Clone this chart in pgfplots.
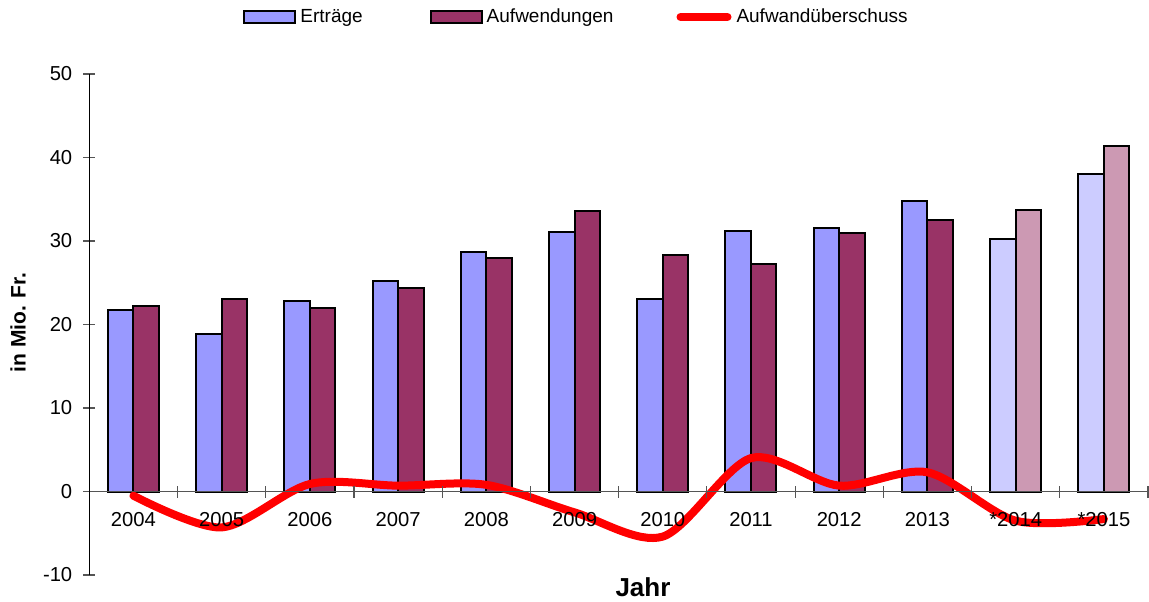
\documentclass[border=0pt]{standalone}
\usepackage{fontspec}
\setmainfont{Liberation Sans}
\usepackage{pgfplots}
\pgfplotsset{compat=1.18}
\definecolor{ertr}{HTML}{9999FF}
\definecolor{aufw}{HTML}{993366}
\definecolor{ertrL}{HTML}{CCCCFF}
\definecolor{aufwL}{HTML}{CC99B3}
\definecolor{axgray}{HTML}{555555}
\begin{document}
\begin{tikzpicture}
\begin{axis}[
  scale only axis, width=529.35pt, height=250.5pt,
  xmin=-0.5, xmax=11.5, ymin=-10, ymax=50,
  axis on top,
  axis y line*=left, axis x line*=middle,
  y axis line style={black, line width=0.6pt},
  x axis line style={axgray, line width=0.6pt},
  ytick={-10,0,10,20,30,40,50},
  yticklabels={-10,0,10,20,30,40,50},
  xtick={0,...,11},
  xticklabels={2004,2005,2006,2007,2008,2009,2010,2011,2012,2013,*2014,*2015},
  minor xtick={0.5,1.5,...,11.5},
  major x tick style={draw=none},
  minor x tick style={axgray, line width=0.6pt},
  major y tick style={axgray, line width=0.6pt},
  tick align=center,
  major tick length=6pt, minor tick length=6pt,
  tick label style={font=\fontsize{10.1}{11.5}\selectfont, text=black},
  xticklabel style={yshift=-4pt},
  yticklabel style={xshift=-2pt},
  ylabel={in Mio. Fr.},
  ylabel style={at={(axis description cs:-0.0673,0.504)}, anchor=center, rotate=0, font=\bfseries\fontsize{10.5}{12}\selectfont},
  xlabel={Jahr},
  xlabel style={at={(axis description cs:0.523,-0.024)}, anchor=center, font=\bfseries\fontsize{13}{15}\selectfont},
  legend columns=3,
  legend style={at={(axis description cs:0.1452,1.1138)}, anchor=west, draw=none, fill=none, inner sep=0pt,
    font=\fontsize{9.5}{11}\selectfont,
    /tikz/every even column/.append style={column sep=31.5pt}},
  legend cell align=left,
  clip=false,
]
\addplot[ybar, bar width=0.289, bar shift=-0.1445, fill=ertr, draw=black, line width=1pt,
  legend image code/.code={\draw[fill=ertr, draw=black, line width=1pt] (0pt,-2.9pt) rectangle (25.5pt,2.9pt);}]
  coordinates {(0,21.7) (1,18.9) (2,22.8) (3,25.2) (4,28.7) (5,31.1) (6,23.0) (7,31.15) (8,31.6) (9,34.8)};
\addlegendentry{Erträge}
\addplot[ybar, bar width=0.289, bar shift=0.1445, fill=aufw, draw=black, line width=1pt,
  legend image code/.code={\draw[fill=aufw, draw=black, line width=1pt] (0pt,-2.9pt) rectangle (25.5pt,2.9pt);}]
  coordinates {(0,22.2) (1,23.1) (2,22.0) (3,24.4) (4,28.0) (5,33.6) (6,28.3) (7,27.2) (8,30.9) (9,32.5)};
\addlegendentry{Aufwendungen\kern-2pt}
\addplot[ybar, bar width=0.289, bar shift=-0.1445, fill=ertrL, draw=black, line width=1pt, forget plot]
  coordinates {(10,30.3) (11,38.0)};
\addplot[ybar, bar width=0.289, bar shift=0.1445, fill=aufwL, draw=black, line width=1pt, forget plot]
  coordinates {(10,33.7) (11,41.4)};
\addplot[red, line width=4pt, smooth, tension=0.5, line cap=round, mark=none,
  legend image code/.code={\draw[red, line width=4pt, line cap=round] (2pt,0pt) -- (25.5pt,0pt);}]
  coordinates {(0,-0.5) (1,-4.3) (2,0.9) (3,0.7) (4,0.8) (5,-2.5) (6,-5.4) (7,4.0) (8,0.7) (9,2.3) (10,-3.5) (11,-3.3)};
\addlegendentry{\kern0.5pt Aufwandüberschuss}
\end{axis}
\pgfresetboundingbox
\path[use as bounding box] (-44.65pt,-13pt) rectangle (529.85pt,287.5pt);
\end{tikzpicture}
\end{document}
